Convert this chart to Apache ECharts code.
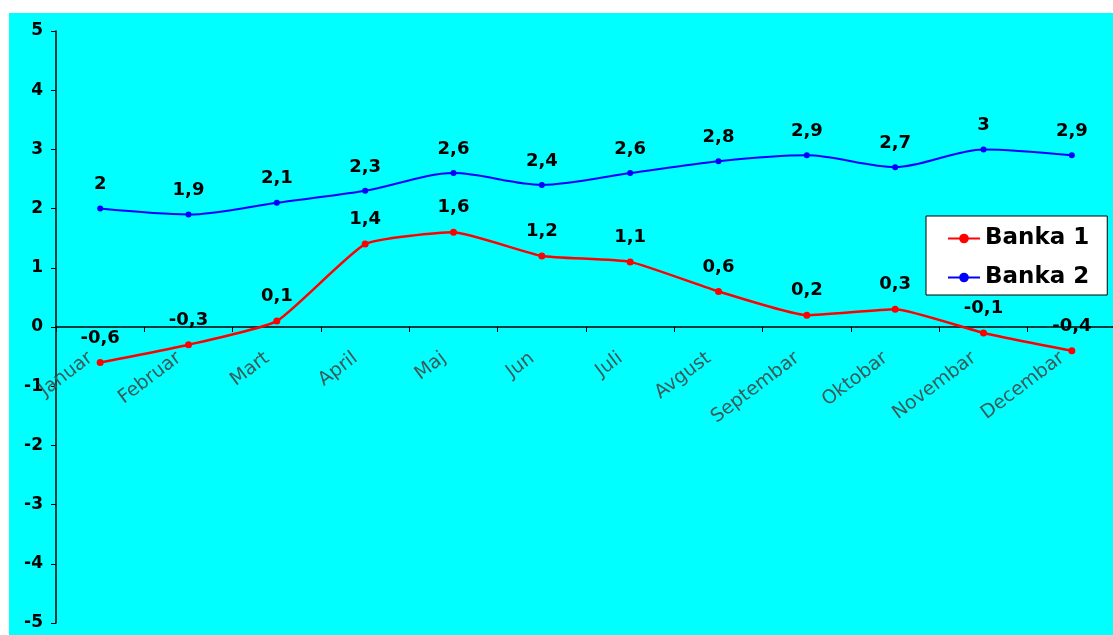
<!DOCTYPE html>
<html>
<head>
<meta charset="utf-8">
<script src="https://cdn.jsdelivr.net/npm/echarts@6/dist/echarts.min.js"></script>
<style>
html,body{margin:0;padding:0;background:#ffffff;}
#c{width:1113px;height:635px;}
</style>
</head>
<body>
<div id="c"></div>
<script>
const categories = ['Januar','Februar','Mart','April','Maj','Jun','Juli','Avgust','Septembar','Oktobar','Novembar','Decembar'];
const banka1 = [-0.6, -0.3, 0.1, 1.4, 1.6, 1.2, 1.1, 0.6, 0.2, 0.3, -0.1, -0.4];
const banka2 = [2, 1.9, 2.1, 2.3, 2.6, 2.4, 2.6, 2.8, 2.9, 2.7, 3, 2.9];
const seriesNames = ['Banka 1', 'Banka 2'];
const yTicks = {min: -5, max: 5, step: 1};

const fmt = p => String(p.value).replace('.', ',');
const font = '"DejaVu Sans", "Liberation Sans", Arial, sans-serif';

const GRID_TOP = 31, GRID_BOTTOM = 12, H = 635;
const plotH = H - GRID_TOP - GRID_BOTTOM;
// x axis sits at value 0 (middle of symmetric range)
const zeroOffset = -plotH * (0 - yTicks.min) / (yTicks.max - yTicks.min);

const chart = echarts.init(document.getElementById('c'), null, {renderer:'canvas'});
chart.setOption({
  animation: false,
  backgroundColor: '#ffffff',
  graphic: [{
    type: 'rect', z: -10, silent: true,
    shape: {x: 9, y: 13, width: 1104, height: 622},
    style: {fill: '#00ffff'}
  }],
  grid: {left: 56, right: -3, top: GRID_TOP, bottom: GRID_BOTTOM, containLabel: false, outerBoundsMode: 'none'},
  legend: {
    orient: 'vertical',
    left: 926, top: 216,
    padding: [11, 18, 6, 21],
    itemGap: 16,
    itemWidth: 32, itemHeight: 12,
    backgroundColor: '#ffffff',
    borderColor: '#000000', borderWidth: 1,
    borderRadius: 0,
    textStyle: {fontFamily: font, fontSize: 23, fontWeight: 'bold', color: '#000'},
    data: seriesNames
  },
  xAxis: {
    type: 'category',
    data: categories,
    boundaryGap: true,
    offset: zeroOffset,
    axisLine: {onZero: false, lineStyle: {color: '#000', width: 1.5}},
    axisTick: {show: true, alignWithLabel: false, length: 5, lineStyle: {color: '#000'}},
    axisLabel: {rotate: 37, margin: 22, interval: 0, padding: [0, 12, 0, 0],
      fontFamily: font, fontSize: 19, color: '#3b5b5b'},
    splitLine: {show: false}
  },
  yAxis: {
    type: 'value',
    min: yTicks.min, max: yTicks.max, interval: yTicks.step,
    axisLine: {show: true, lineStyle: {color: '#000', width: 1.5}},
    axisTick: {show: true, length: 5, lineStyle: {color: '#000'}},
    axisLabel: {fontFamily: font, fontSize: 17, fontWeight: 'bold', color: '#000', margin: 13},
    splitLine: {show: false}
  },
  series: [
    {
      name: seriesNames[0], type: 'line', data: banka1,
      smooth: 0.15,
      symbol: 'circle', symbolSize: 7,
      itemStyle: {color: '#ff0000'},
      lineStyle: {color: '#ff0000', width: 2.5},
      label: {show: true, position: 'top', distance: 12, formatter: fmt,
        fontFamily: font, fontSize: 18, fontWeight: 'bold', color: '#000'}
    },
    {
      name: seriesNames[1], type: 'line', data: banka2,
      smooth: 0.3,
      symbol: 'circle', symbolSize: 6,
      itemStyle: {color: '#0000ff'},
      lineStyle: {color: '#0000ff', width: 2},
      label: {show: true, position: 'top', distance: 12, formatter: fmt,
        fontFamily: font, fontSize: 18, fontWeight: 'bold', color: '#000'}
    }
  ]
});
</script>
</body>
</html>
